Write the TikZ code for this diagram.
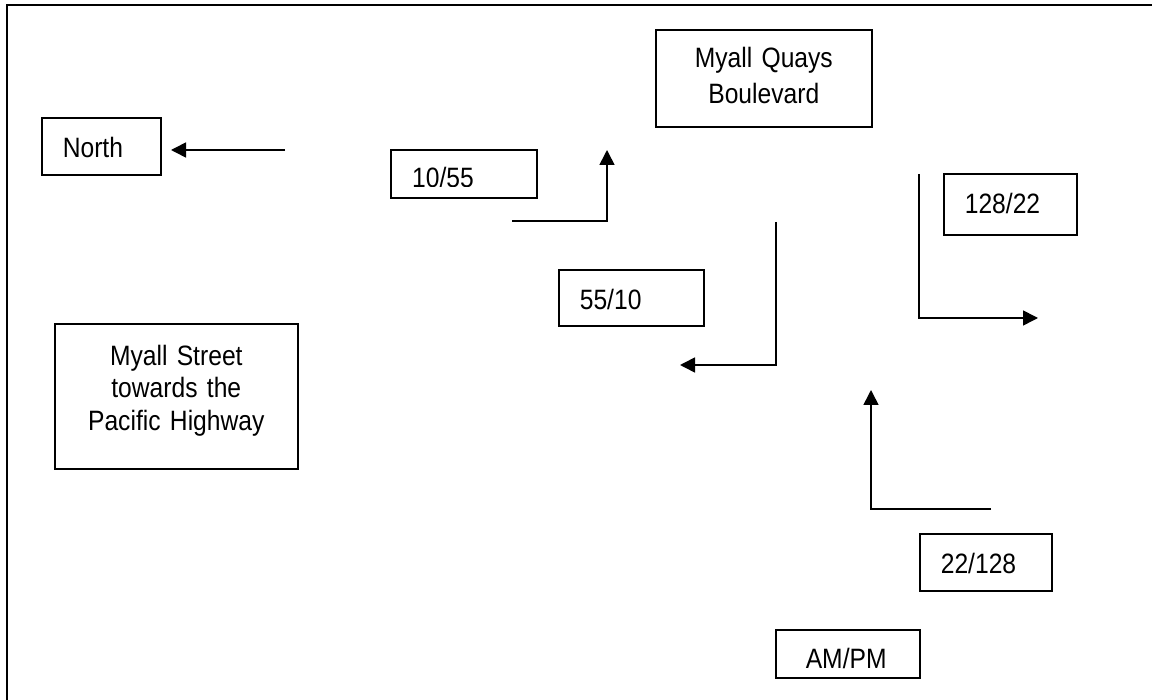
\documentclass[tikz,border=0pt]{standalone}
\usepackage{fontspec}
\newfontfamily\lblfont{Liberation Sans}[FakeStretch=0.88]
\usetikzlibrary{arrows.meta}
\tikzset{
  box/.style={draw, line width=1.6pt, rectangle, anchor=north west, inner ysep=0pt,
    font=\lblfont\fontsize{28}{36}\selectfont},
  leftbox/.style={box, align=left},
  midbox/.style={box, align=center},
  arr/.style={line width=1.6pt, -{Triangle[length=15pt,width=15pt]}},
  frame/.style={line width=2.5pt}
}
\begin{document}
\begin{tikzpicture}[x=1pt,y=-1pt]
\useasboundingbox (0,0) rectangle (1152,700);
% outer frame (top and left edges)
\draw[frame] (1153,5) -- (7,5) -- (7,701);

% boxes
\node[leftbox, inner xsep=21pt, text width=77pt, text height=40pt, text depth=17pt] (north) at (41,117) {North};
\node[midbox, inner xsep=8pt, text width=200pt, text height=37.4pt, text depth=59.3pt] (quays) at (655,29.3) {Myall Quays\\Boulevard};
\node[leftbox, inner xsep=0pt, text width=146pt, text height=48pt, text depth=0pt] (b1055) at (390,149) {};
\begin{scope}
  \clip (390,149) rectangle (536,186.6);
  \node[font=\lblfont\fontsize{28}{36}\selectfont, anchor=base west, inner sep=0pt] (t1055) at (412,188) {10/55};
\end{scope}
\node[leftbox, inner xsep=21pt, text width=103pt, text height=39.3pt, text depth=16.7pt] (b5510) at (558,269) {55/10};
\node[leftbox, inner xsep=21pt, text width=91pt, text height=39.3pt, text depth=21.7pt] (b12822) at (943,173) {128/22};
\node[leftbox, inner xsep=21pt, text width=90pt, text height=39.7pt, text depth=17.3pt] (b22128) at (919,533) {22/128};
\node[leftbox, inner xsep=30pt, text width=84pt, text height=38.7pt, text depth=9.3pt] (ampm) at (775,629) {AM/PM};
\node[midbox, inner xsep=8pt, text width=227pt, text height=41.7pt, text depth=103.3pt, font=\lblfont\fontsize{28}{32.5}\selectfont] (street) at (54,323) {Myall Street\\towards the\\Pacific Highway};

% arrow end points
\coordinate (nS) at (285,150);
\coordinate (nE) at (171,150);
\coordinate (aS) at (512,221);
\coordinate (aE) at (607,150);
\coordinate (bS) at (776,222);
\coordinate (bE) at (680,365);
\coordinate (cS) at (919,174);
\coordinate (cE) at (1038,318);
\coordinate (dS) at (991,509);
\coordinate (dE) at (871,390);

% arrows
\draw[arr] (nS) -- (nE);
\draw[arr] (aS) -| (aE);
\draw[arr] (bS) |- (bE);
\draw[arr] (cS) |- (cE);
\draw[arr] (dS) -| (dE);
\end{tikzpicture}
\end{document}
